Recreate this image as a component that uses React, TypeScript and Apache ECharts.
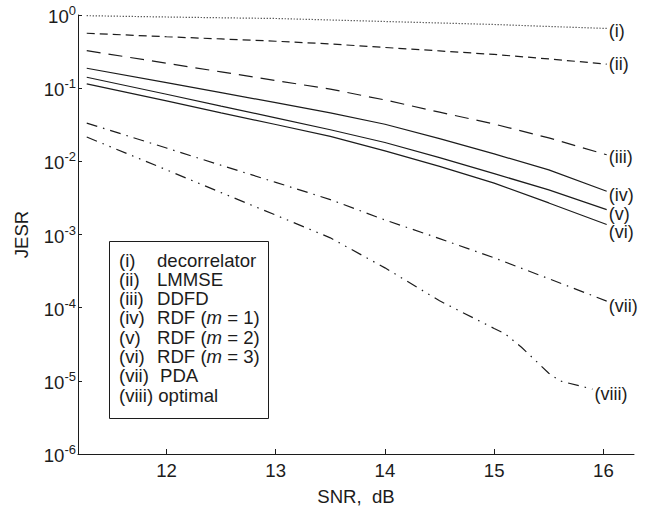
import React, { useEffect, useRef } from "react";
import * as echarts from "echarts";

// SNR points (dB)
const snr = [11.27, 12, 12.5, 13, 13.5, 14, 14.5, 15, 15.5, 16.03];
const snrOptimal = [11.27, 12, 12.5, 13, 13.5, 14, 14.5, 15, 15.1, 15.25, 15.5, 15.6, 15.9];

// JESR values
const decorrelator = [0.978, 0.939, 0.916, 0.896, 0.855, 0.815, 0.778, 0.742, 0.697, 0.655];
const lmmse = [0.563, 0.504, 0.471, 0.438, 0.402, 0.36, 0.323, 0.289, 0.251, 0.213];
const ddfd = [0.326, 0.219, 0.167, 0.127, 0.097, 0.069, 0.047, 0.0323, 0.0209, 0.0123];
const rdf1 = [0.187, 0.119, 0.0867, 0.0633, 0.046, 0.0321, 0.0204, 0.01264, 0.00765, 0.0039];
const rdf2 = [0.141, 0.0826, 0.0569, 0.0393, 0.027, 0.0181, 0.01125, 0.00679, 0.00407, 0.00219];
const rdf3 = [0.1146, 0.067, 0.046, 0.0319, 0.0219, 0.0139, 0.00853, 0.00504, 0.0027, 0.00137];
const pda = [0.0333, 0.0152, 0.00883, 0.00516, 0.003, 0.00158, 0.00088, 0.00048, 0.000249, 0.000123];
const optimal = [0.0215, 0.00765, 0.00374, 0.00184, 0.0009, 0.00035, 0.000124, 5.2e-5, 4.4e-5, 2.88e-5, 1.27e-5, 1.0e-5, 7.7e-6];

const xTicks = [12, 13, 14, 15, 16];
const roman = ["(i)", "(ii)", "(iii)", "(iv)", "(v)", "(vi)", "(vii)", "(viii)"];
const methodNames = ["decorrelator", "LMMSE", "DDFD", "RDF ({i|m} = 1)", "RDF ({i|m} = 2)", "RDF ({i|m} = 3)", "PDA", "optimal"];

const FONT = "'Liberation Sans', Arial, Helvetica, sans-serif";
const INK = "#1c1c1c";
const FS = 18.6;

export default function App() {
  const ref = useRef<HTMLDivElement>(null);
  useEffect(() => {
    if (!ref.current) return;
    const chart = echarts.init(ref.current, undefined, { renderer: "svg" });

    const seriesDefs = [
      { x: snr, y: decorrelator, dash: [1, 2], dy: 3 },
      { x: snr, y: lmmse, dash: [8, 5], dy: 0 },
      { x: snr, y: ddfd, dash: [14, 8], dy: 2.5 },
      { x: snr, y: rdf1, dash: "solid", dy: 4 },
      { x: snr, y: rdf2, dash: "solid", dy: 4 },
      { x: snr, y: rdf3, dash: "solid", dy: 8 },
      { x: snr, y: pda, dash: [11, 6, 1.5, 6], dy: 5 },
      { x: snrOptimal, y: optimal, dash: [11, 6, 1.5, 6, 1.5, 6], dy: 5 },
    ];

    const series = seriesDefs.map((d, i) => ({
      type: "line",
      name: roman[i],
      data: d.x.map((xv, k) => [xv, d.y[k]]),
      showSymbol: false,
      symbol: "none",
      lineStyle: { color: INK, width: 1.2, type: d.dash as any },
      endLabel: {
        show: true,
        formatter: roman[i],
        distance: 2,
        offset: [0, d.dy],
        color: INK,
        fontSize: 18,
        lineHeight: 16,
        fontFamily: FONT,
      },
      emphasis: { disabled: true },
    }));

    const rowY0 = 260;
    const rowH = 19.3;
    const legendTexts: any[] = [];
    roman.forEach((r, i) => {
      const y = rowY0 + i * rowH;
      if (i === 7) {
        legendTexts.push({
          type: "text",
          style: { text: r + " " + methodNames[i], x: 119, y, fontSize: FS, fontFamily: FONT, fill: INK, verticalAlign: "middle" },
        });
      } else {
        legendTexts.push({
          type: "text",
          style: { text: r, x: 119, y, fontSize: FS, fontFamily: FONT, fill: INK, verticalAlign: "middle" },
        });
        legendTexts.push({
          type: "text",
          style: {
            text: methodNames[i],
            x: i === 6 ? 160 : 157,
            y,
            fontSize: FS,
            fontFamily: FONT,
            fill: INK,
            verticalAlign: "middle",
            rich: { i: { fontStyle: "italic", fontSize: FS, fontFamily: FONT, fill: INK } },
          },
        });
      }
    });

    chart.setOption({
      animation: false,
      backgroundColor: "#ffffff",
      grid: { left: 78, right: 17, top: 15, bottom: 56, containLabel: false },
      xAxis: {
        type: "value",
        min: 11.19,
        max: 16.28,
        name: "SNR,  dB",
        nameLocation: "middle",
        nameGap: 33,
        nameTextStyle: { fontSize: FS, fontFamily: FONT, color: INK },
        axisLine: { show: true, lineStyle: { color: INK, width: 1 } },
        axisTick: { show: true, inside: true, length: 5, customValues: xTicks, lineStyle: { color: INK } },
        axisLabel: { customValues: xTicks, margin: 7, fontSize: FS, fontFamily: FONT, color: INK },
        splitLine: { show: false },
      },
      yAxis: {
        type: "log",
        logBase: 10,
        min: 1e-6,
        max: 1,
        splitNumber: 6,
        name: "JESR",
        nameLocation: "middle",
        nameGap: 47,
        nameTextStyle: { fontSize: FS, fontFamily: FONT, color: INK },
        axisLine: { show: true, lineStyle: { color: INK, width: 1 } },
        axisTick: { show: true, inside: true, length: 4, lineStyle: { color: INK } },
        axisLabel: {
          margin: 2,
          formatter: (v: number) => {
            const e = Math.round(Math.log10(v));
            return "{b|10}{s|" + e + "}";
          },
          rich: {
            b: { fontSize: FS, fontFamily: FONT, color: INK, lineHeight: 22, verticalAlign: "bottom" },
            s: { fontSize: 13, fontFamily: FONT, color: INK, lineHeight: 13, verticalAlign: "top" },
          },
        },
        splitLine: { show: false },
        minorTick: { show: false },
      },
      series,
      graphic: [
        {
          type: "rect",
          shape: { x: 109.5, y: 241.5, width: 159, height: 177 },
          style: { fill: "#ffffff", stroke: INK, lineWidth: 1 },
          z: 10,
        },
        ...legendTexts.map((t) => ({ ...t, z: 11 })),
      ],
    });

    return () => chart.dispose();
  }, []);

  return (
    <div
      ref={ref}
      style={{ position: "absolute", left: 0, top: 0, width: 651, height: 511, background: "#fff" }}
    />
  );
}
